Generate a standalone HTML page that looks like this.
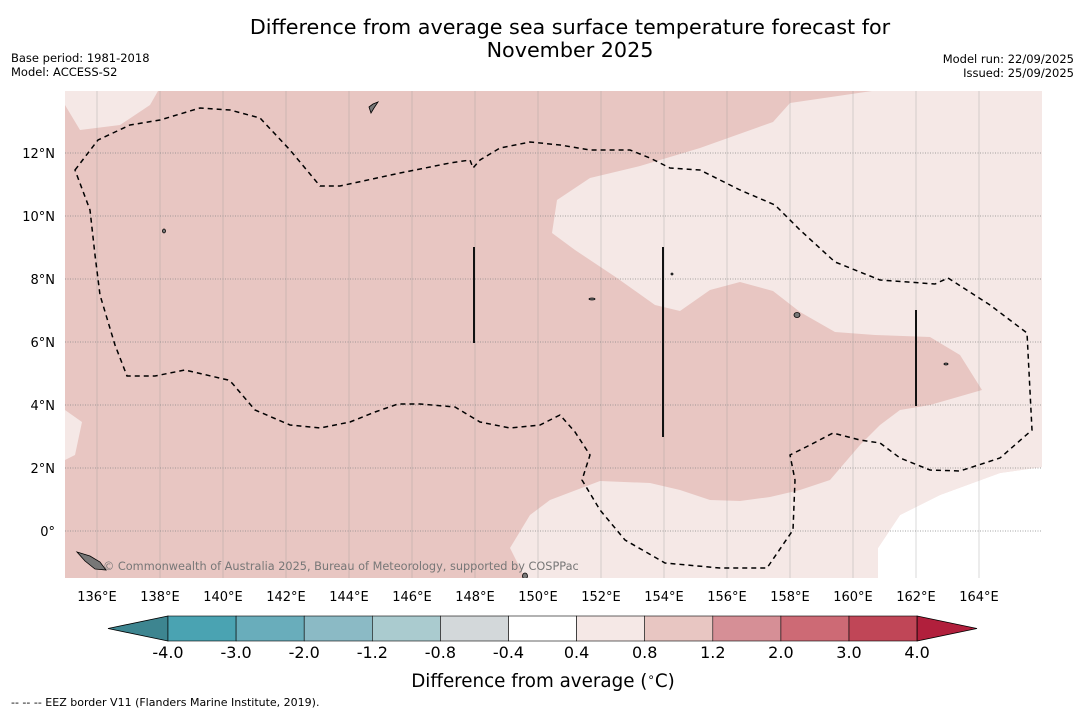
<!DOCTYPE html>
<html><head><meta charset="utf-8"><style>
body{margin:0;background:#fff;font-family:"Liberation Sans","DejaVu Sans",sans-serif}
svg text{font-family:"DejaVu Sans","Liberation Sans",sans-serif}
</style></head><body>
<svg id="chart" width="1085" height="713" xmlns="http://www.w3.org/2000/svg">
<text x="570" y="34" font-size="20.7" text-anchor="middle">Difference from average sea surface temperature forecast for</text>
<text x="570" y="57" font-size="20.7" text-anchor="middle">November 2025</text>
<text x="11" y="62" font-size="11.5">Base period: 1981-2018</text>
<text x="11" y="76" font-size="11.5">Model: ACCESS-S2</text>
<text x="1074" y="63" font-size="11.5" text-anchor="end">Model run: 22/09/2025</text>
<text x="1074" y="77" font-size="11.5" text-anchor="end">Issued: 25/09/2025</text>
<g>
<defs><clipPath id="mc"><rect x="65" y="91" width="977" height="487"/></clipPath></defs>
<g clip-path="url(#mc)">
<rect x="65" y="91" width="977" height="487" fill="#e8c6c2"/>
<path fill="#f5e8e6" d="M872,91 L1042,91 L1042,467 L1000,473 L940,495 L900,515 L878,548 L878,578 L525,578 L510,548 L530,515 L550,500 L600,481 L650,483 L680,490 L710,500 L740,501 L770,497 L800,490 L830,480 L860,445 L880,425 L900,410 L930,405 L982,390 L960,355 L930,337 L875,335 L835,332 L800,312 L773,291 L740,282 L710,290 L680,311 L655,305 L617,278 L575,250 L552,233 L557,200 L590,178 L640,166 L700,148 L773,122 L790,103 Z"/>
<path fill="#ffffff" d="M878,578 L878,548 L900,515 L940,495 L1000,473 L1042,467 L1042,578 Z"/>
<path fill="#f5e8e6" d="M65,91 L158,91 L150,105 L120,125 L80,130 L65,105 Z"/>
<path fill="#f5e8e6" d="M65,410 L82,422 L75,455 L65,460 Z"/>
<g id="grid"></g>
<path fill="none" stroke="#000" stroke-width="1.5" stroke-dasharray="5,4" d="M75,170 L98,140 L130,125 L160,120 L200,108 L230,110 L260,118 L290,150 L320,186 L340,186 L400,173 L450,163 L470,160 L473,168 L480,160 L500,148 L530,142 L560,145 L590,150 L630,150 L650,158 L670,168 L700,170 L740,190 L775,205 L800,230 L835,262 L880,280 L935,284 L948,278 L990,305 L1027,333 L1032,430 L1000,458 L960,471 L930,470 L900,458 L880,443 L860,440 L833,433 L810,445 L790,455 L795,480 L793,530 L767,568 L720,568 L665,563 L625,540 L600,510 L582,480 L590,455 L575,432 L560,415 L540,425 L510,428 L480,422 L455,407 L420,404 L398,404 L375,412 L350,422 L320,428 L290,425 L255,410 L232,383 L228,380 L185,370 L155,376 L127,376 L115,345 L100,295 L95,255 L90,210 Z"/>
<g stroke="#111" stroke-width="2">
<line x1="474" y1="247" x2="474" y2="343"/><line x1="663" y1="247" x2="663" y2="437"/><line x1="916" y1="310" x2="916" y2="406"/>
</g>
<g fill="#777" stroke="#000" stroke-width="0.8">
<path d="M77,552 L90,556 L100,562 L106,570 L95,569 L85,561 Z"/>
<ellipse cx="797" cy="315" rx="3" ry="2.5"/><path d="M369,107 L373,104 L378,102 L374,108 L371,113 Z"/><ellipse cx="525" cy="576" rx="2.5" ry="3"/>
<ellipse cx="592" cy="299" rx="3" ry="1"/><ellipse cx="164" cy="231" rx="1.5" ry="2"/><ellipse cx="946" cy="364" rx="2" ry="1"/><circle cx="672" cy="274" r="1"/>
</g>
<text x="103" y="570" font-size="11.3" fill="#777">© Commonwealth of Australia 2025, Bureau of Meteorology, supported by COSPPac</text>
</g>
<g id="axes"></g>
</g>
<g id="cbar"></g>
<text x="543" y="687" font-size="18.3" text-anchor="middle">Difference from average (<tspan font-size="12" dy="-6">∘</tspan><tspan dy="6">C)</tspan></text>
<text x="11" y="706" font-size="11">--  --  -- EEZ border V11 (Flanders Marine Institute, 2019).</text>
</svg>
<script>
const lonTicks=[136,138,140,142,144,146,148,150,152,154,156,158,160,162,164];
const latTicks=[12,10,8,6,4,2,0];
const cbarLevels=["-4.0","-3.0","-2.0","-1.2","-0.8","-0.4","0.4","0.8","1.2","2.0","3.0","4.0"];
const cbarColors=["#4aa3b2","#69adbb","#8bbac5","#aacbcf","#d3d8da","#ffffff","#f5e8e6","#e8c6c2","#d68f96","#cd6a75","#c04657"];
const extLow="#3d8590", extHigh="#b11f3c";
const NS="http://www.w3.org/2000/svg";
const xLon=l=>97+(l-136)*31.5, yLat=l=>531-l*31.5;
function mk(t,a,p){const e=document.createElementNS(NS,t);for(const k in a)e.setAttribute(k,a[k]);p.appendChild(e);return e;}
const grid=document.getElementById('grid'), axes=document.getElementById('axes'), cb=document.getElementById('cbar');
lonTicks.forEach(l=>{
 const ln=mk('line',{x1:xLon(l),x2:xLon(l),y1:91,y2:578,stroke:'#999','stroke-width':0.6,'stroke-opacity':0.6},grid);
 
 
 const t=mk('text',{x:xLon(l),y:601,'font-size':13,'text-anchor':'middle'},axes);t.textContent=l+'°E';
 
 
});
latTicks.forEach(l=>{
 const ln=mk('line',{x1:65,x2:1042,y1:yLat(l),y2:yLat(l),stroke:'#888','stroke-width':0.8,'stroke-dasharray':'1,1.5'},grid);
 
 
 const t=mk('text',{x:55,y:yLat(l)+5,'font-size':13,'text-anchor':'end'},axes);t.textContent=l===0?'0°':l+'°N';
 
 
});
const cx0=168,cw=68.1,cy=616,ch=25;
const tl=mk('polygon',{points:`108,${cy+ch/2} ${cx0},${cy} ${cx0},${cy+ch}`,fill:extLow,stroke:'#000','stroke-width':0.8},cb);


cbarColors.forEach((c,i)=>{
 const r=mk('rect',{x:cx0+i*cw,y:cy,width:cw,height:ch,fill:c,stroke:'#000','stroke-width':0.6},cb);
 
 
});
const xe=cx0+cbarColors.length*cw;
const th=mk('polygon',{points:`${xe},${cy} 977,${cy+ch/2} ${xe},${cy+ch}`,fill:extHigh,stroke:'#000','stroke-width':0.8},cb);


cbarLevels.forEach((v,i)=>{
 const t=mk('text',{x:cx0+i*cw,y:658,'font-size':16,'text-anchor':'middle'},cb);t.textContent=v;
 
 
});
</script>
</body></html>
